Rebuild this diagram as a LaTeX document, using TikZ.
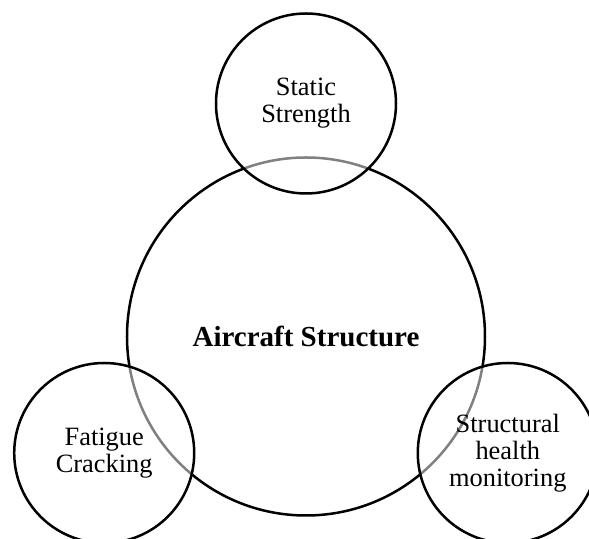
\documentclass[tikz,border=0pt]{standalone}
\usepackage{fontspec}
\setmainfont{Liberation Serif}
\usepackage{tikz}

\begin{document}
\begin{tikzpicture}[
    every node/.style={font=\fontsize{13.2}{13.6}\selectfont},
    hub/.style={draw, circle, minimum size=179pt, line width=1.25pt,
                align=center, font=\fontsize{14.5}{15}\selectfont\bfseries},
    topic/.style={draw, circle, minimum size=90pt, line width=1.25pt, inner sep=0pt,
                  align=center, fill=white, fill opacity=0.5, text opacity=1}
]
    \useasboundingbox (-153pt,-101.25pt) rectangle (141.5pt,168.25pt);
    \clip (-153pt,-101.25pt) rectangle (141.5pt,168.25pt);

    \node[hub] (core) at (0,0) {Aircraft Structure};

    \node[topic] (static) at ([shift={(90:116.5pt)}]core.center) {Static\\Strength};
    \node[topic] (fatigue) at ([shift={(210:116.5pt)}]core.center) {Fatigue\\Cracking};
    \node[topic] (shm) at ([shift={(-30:116.5pt)}]core.center) {Structural\\health\\monitoring};
\end{tikzpicture}
\end{document}
